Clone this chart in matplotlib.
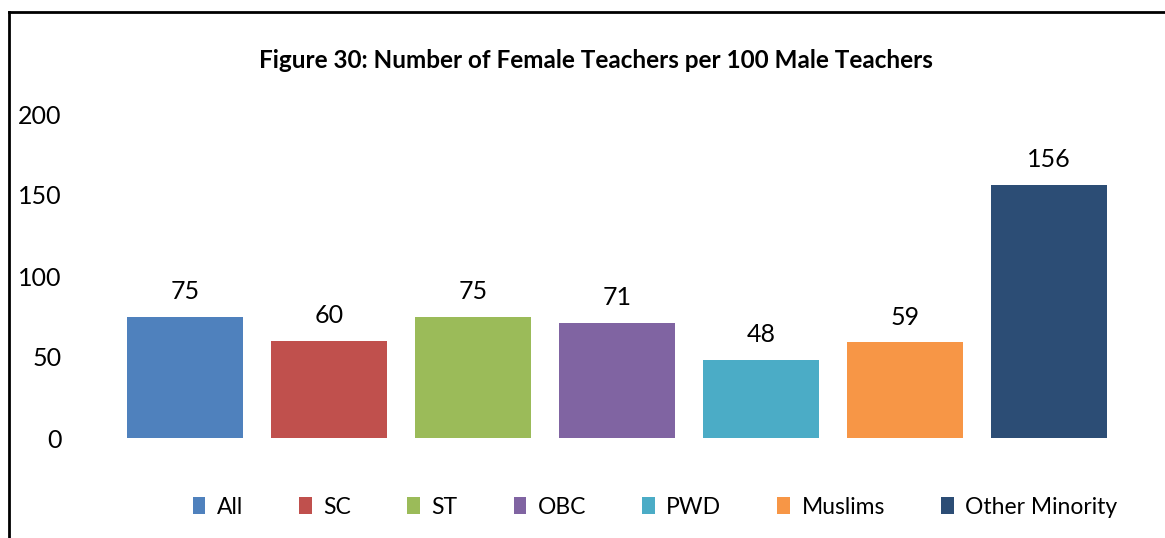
import matplotlib
matplotlib.use("Agg")
import matplotlib.pyplot as plt
from matplotlib.lines import Line2D
from matplotlib.patches import Patch

categories = ["All", "SC", "ST", "OBC", "PWD", "Muslims", "Other Minority"]
values = [75, 60, 75, 71, 48, 59, 156]
colors = ["#4F81BD", "#C0504D", "#9BBB59", "#8064A2", "#4BACC6", "#F79646", "#2C4D75"]
yticks = [0, 50, 100, 150, 200]
title = "Figure 30: Number of Female Teachers per 100 Male Teachers"

plt.rcParams['font.family'] = ['Lato', 'DejaVu Sans']

W, H = 1165, 538
fig = plt.figure(figsize=(W / 100, H / 100), dpi=100)
ax = fig.add_axes([113 / W, 1 - 438 / H, 1008 / W, (438 - 114) / H])

x = list(range(len(categories)))
bars = ax.bar(x, values, width=0.8, color=colors)
for xi, v in zip(x, values):
    ax.annotate(f"{v}", (xi, v), xytext=(0, 10), textcoords="offset points",
                ha="center", va="bottom", fontsize=18)

ax.set_xlim(-0.5, len(categories) - 0.5)
ax.set_ylim(0, 200)
ax.set_yticks(yticks)
ax.set_yticklabels([str(t) for t in yticks], fontsize=18)
ax.set_xticks([])
ax.tick_params(axis='y', length=0, pad=37)
for s in ax.spines.values():
    s.set_visible(False)

fig.text(596 / W, 1 - 60 / H, title, ha="center", va="center",
         fontsize=17.5, fontweight="bold")

handles = [Patch(facecolor=c, edgecolor='none') for c in colors]
fig.legend(handles, categories, loc="center", bbox_to_anchor=(655 / W, 1 - 507 / H),
           ncol=len(categories), frameon=False, fontsize=16.5,
           handlelength=0.55, handleheight=0.75, handletextpad=0.5, columnspacing=2.45)

# outer frame (left and top edges visible)
fig.add_artist(Line2D([9 / W, 9 / W], [0, 1 - 12 / H], transform=fig.transFigure,
                      color="black", lw=2))
fig.add_artist(Line2D([9 / W, 1], [1 - 12 / H, 1 - 12 / H], transform=fig.transFigure,
                      color="black", lw=2))

fig.savefig("out.png", dpi=100)
